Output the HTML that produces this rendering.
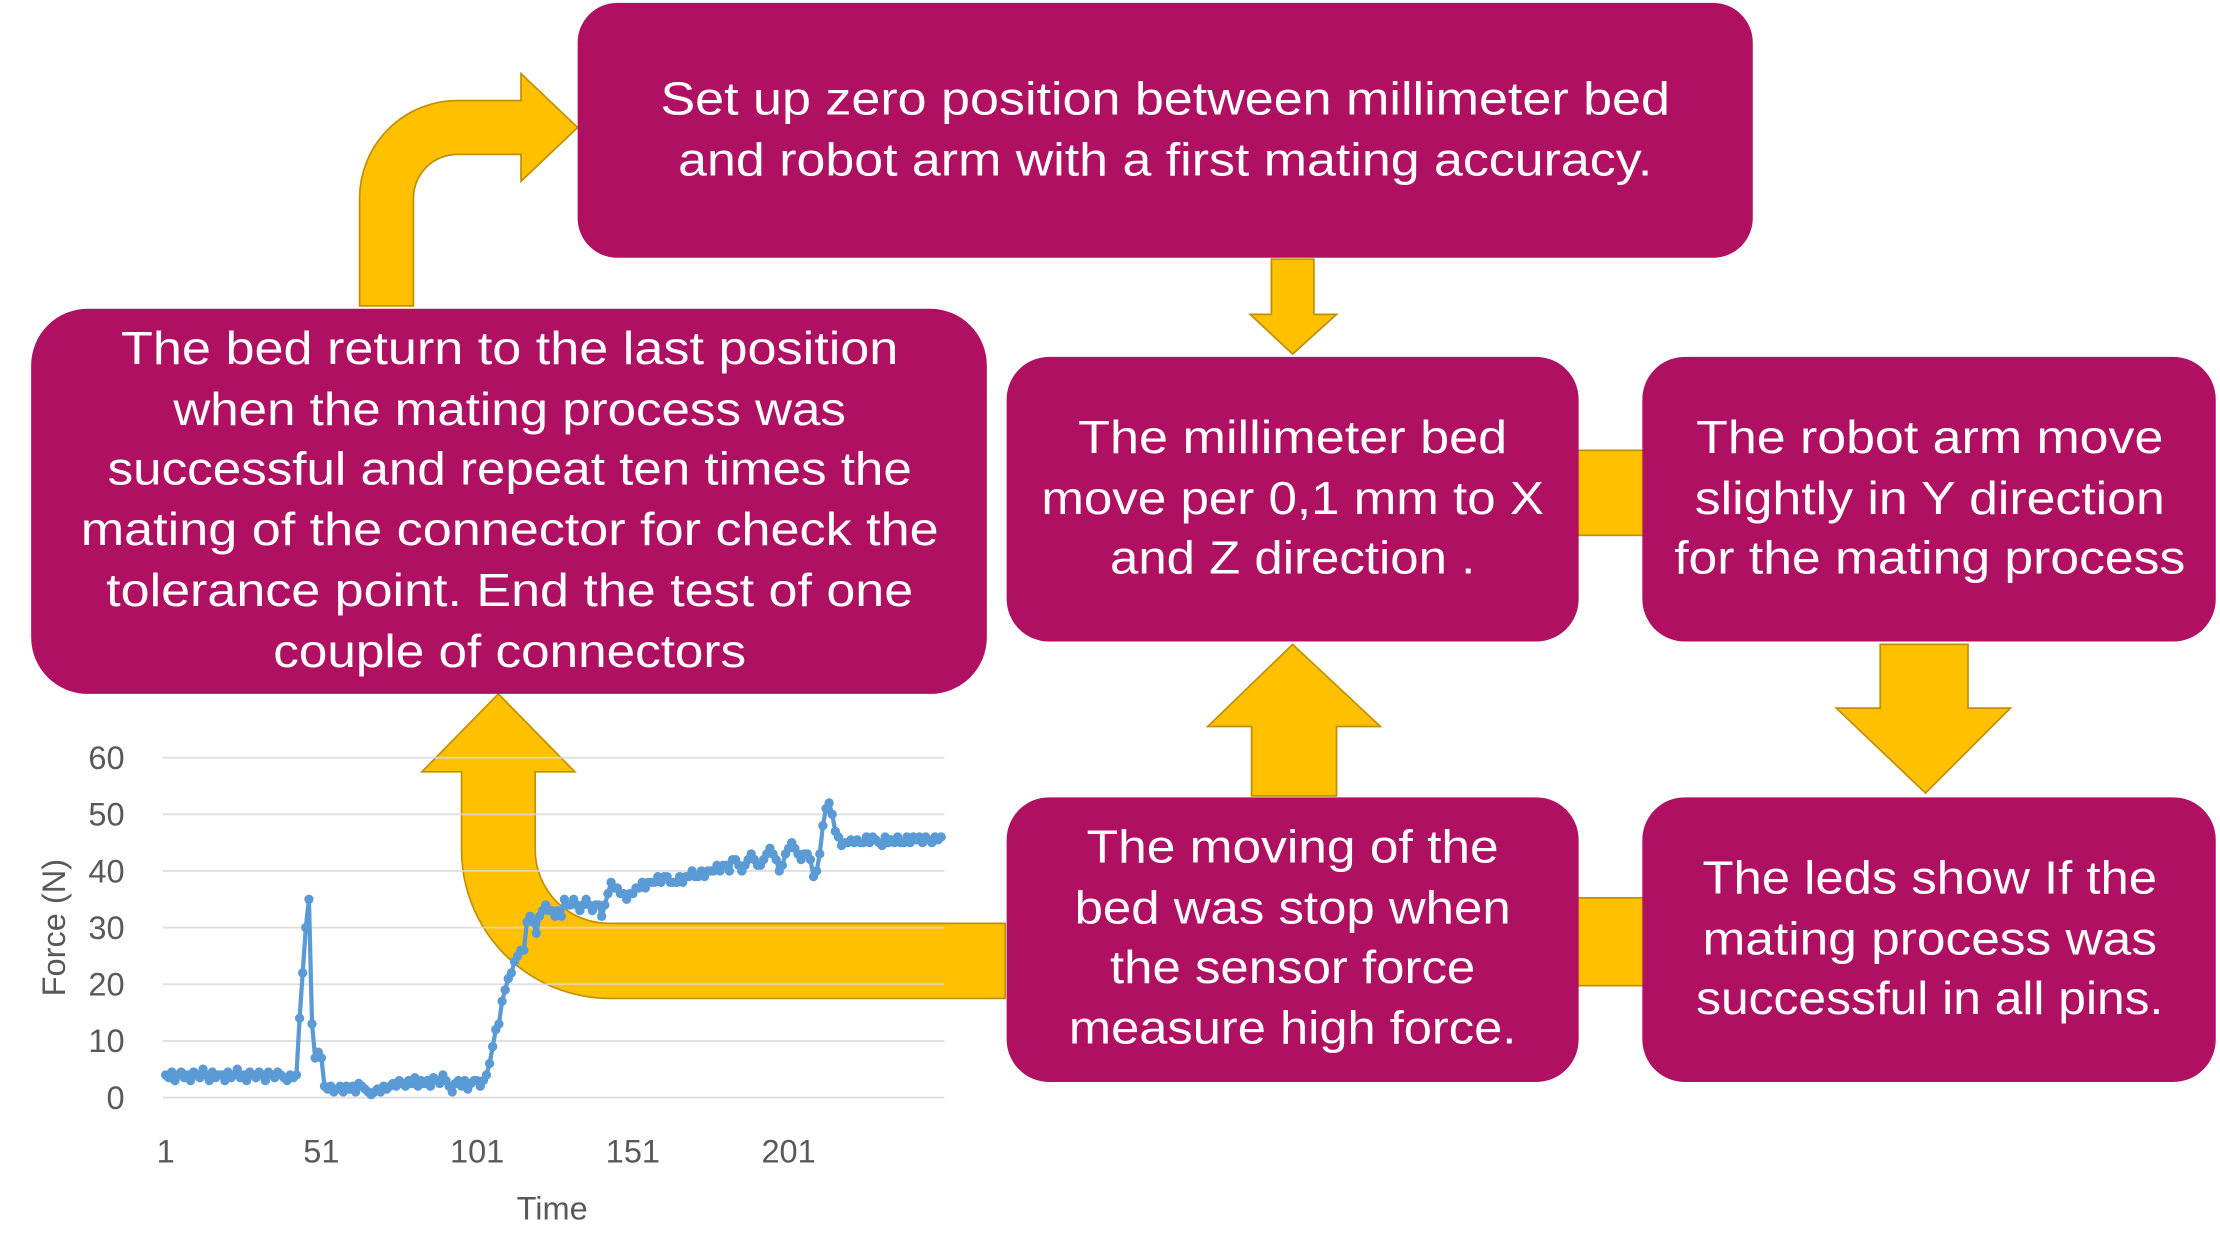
<!DOCTYPE html>
<html><head><meta charset="utf-8">
<style>
html,body{margin:0;padding:0;background:#fff;}
svg{display:block;}
.bt{font-family:"Liberation Sans",sans-serif;font-size:33px;fill:#fff;}
.ax{font-family:"Liberation Sans",sans-serif;font-size:23px;fill:#595959;}
</style></head>
<body>
<svg id="root" width="2220" height="1259" viewBox="0 0 1568 889" preserveAspectRatio="none" xmlns="http://www.w3.org/2000/svg">
<g fill="#FFC000" stroke="#BF9000" stroke-width="1.2">
 <path d="M710,652 L430,652 A52,52 0 0 1 378,600 L378,545 L406,545 L352,490 L298,545 L326,545 L326,600 A105,105 0 0 0 431,705 L710,705 Z"/>
 <path d="M254,216 L254,140 A69,69 0 0 1 323,71 L368,71 L368,52 L408,90 L368,128 L368,109 L323,109 A31,31 0 0 0 292,140 L292,216 Z"/>
 <path d="M898,183 L928,183 L928,222 L944,222 L913,250 L883,222 L898,222 Z"/>
 <path d="M884,562 L944,562 L944,513 L975,513 L913,455 L853,513 L884,513 Z"/>
 <path d="M1328,455 L1390,455 L1390,500 L1420,500 L1360,560 L1297,500 L1328,500 Z"/>
 <rect x="1114" y="318" width="47" height="60"/>
 <rect x="1114" y="634" width="47" height="62"/>
</g>
<g id="chart"></g>
<g fill="#B01062">
 <g><rect x="408" y="2" width="830" height="180" rx="28"/>
  <text class="bt" x="823" y="81" text-anchor="middle" textLength="713" lengthAdjust="spacingAndGlyphs">Set up zero position between millimeter bed</text>
  <text class="bt" x="823" y="124" text-anchor="middle" textLength="688" lengthAdjust="spacingAndGlyphs">and robot arm with a first mating accuracy.</text></g>
 <g><rect x="22" y="218" width="675" height="272" rx="40"/>
  <text class="bt" x="360" y="257" text-anchor="middle" textLength="549" lengthAdjust="spacingAndGlyphs">The bed return to the last position</text>
  <text class="bt" x="360" y="300" text-anchor="middle" textLength="475" lengthAdjust="spacingAndGlyphs">when the mating process was</text>
  <text class="bt" x="360" y="342" text-anchor="middle" textLength="568" lengthAdjust="spacingAndGlyphs">successful and repeat ten times the</text>
  <text class="bt" x="360" y="385" text-anchor="middle" textLength="606" lengthAdjust="spacingAndGlyphs">mating of the connector for check the</text>
  <text class="bt" x="360" y="428" text-anchor="middle" textLength="570" lengthAdjust="spacingAndGlyphs">tolerance point. End the test of one</text>
  <text class="bt" x="360" y="471" text-anchor="middle" textLength="334" lengthAdjust="spacingAndGlyphs">couple of connectors</text></g>
 <g><rect x="711" y="252" width="404" height="201" rx="30"/>
  <text class="bt" x="913" y="320" text-anchor="middle" textLength="303" lengthAdjust="spacingAndGlyphs">The millimeter bed</text>
  <text class="bt" x="913" y="363" text-anchor="middle" textLength="355" lengthAdjust="spacingAndGlyphs">move per 0,1 mm to X</text>
  <text class="bt" x="913" y="405" text-anchor="middle" textLength="258" lengthAdjust="spacingAndGlyphs">and Z direction .</text></g>
 <g><rect x="1160" y="252" width="405" height="201" rx="30"/>
  <text class="bt" x="1363" y="320" text-anchor="middle" textLength="330" lengthAdjust="spacingAndGlyphs">The robot arm move</text>
  <text class="bt" x="1363" y="363" text-anchor="middle" textLength="332" lengthAdjust="spacingAndGlyphs">slightly in Y direction</text>
  <text class="bt" x="1363" y="405" text-anchor="middle" textLength="361" lengthAdjust="spacingAndGlyphs">for the mating process</text></g>
 <g><rect x="711" y="563" width="404" height="201" rx="30"/>
  <text class="bt" x="913" y="609" text-anchor="middle" textLength="291" lengthAdjust="spacingAndGlyphs">The moving of the</text>
  <text class="bt" x="913" y="652" text-anchor="middle" textLength="308" lengthAdjust="spacingAndGlyphs">bed was stop when</text>
  <text class="bt" x="913" y="694" text-anchor="middle" textLength="258" lengthAdjust="spacingAndGlyphs">the sensor force</text>
  <text class="bt" x="913" y="737" text-anchor="middle" textLength="316" lengthAdjust="spacingAndGlyphs">measure high force.</text></g>
 <g><rect x="1160" y="563" width="405" height="201" rx="30"/>
  <text class="bt" x="1363" y="631" text-anchor="middle" textLength="321" lengthAdjust="spacingAndGlyphs">The leds show If the</text>
  <text class="bt" x="1363" y="674" text-anchor="middle" textLength="321" lengthAdjust="spacingAndGlyphs">mating process  was</text>
  <text class="bt" x="1363" y="716" text-anchor="middle" textLength="330" lengthAdjust="spacingAndGlyphs">successful in all pins.</text></g>
</g>
</svg>
<script>
const yTicks=[0,10,20,30,40,50,60];
const xTickLabels=[1,51,101,151,201];
const forceValues=[
4,3.5,4.5,3,4,4.5,3.5,4,3,4.5,4,3.5,5,4,3,4.5,3.5,4,4,3,4.5,3.5,4,5,3.5,4,3,4.5,4,3.5,4.5,4,3,4.5,4,3.5,4.5,4,3.5,3,4,3.5,4,
14,22,30,35,13,7,8,7,2,1.5,2,1,1.5,2,1,2,1.5,2,1,2.5,2,1.5,1,0.5,1,1.5,1,2,1.5,
2,2.5,2,3,2.5,2,3,2.5,3.5,2,3,2.5,3,2,3.5,3,2.5,4,3,2,1,2.5,3,2,3,1.5,2.5,3,3,2,
3,4,6,9,12,13,17,19,21,22,24,25,26,26,31,32,31,29,32,33,34,33,33,32,33,32,35,34,34,35,34,33,34,35,34,33,34,34,32,34,36,38,37,
37,36,36,35,36,36,37,37,38,37,38,38,38,39,38,39,39,38,38,38,39,38,39,39,40,39,39,40,39,40,40,40,41,40,41,41,40,42,42,41,40,41,42,43,42,41,41,42,43,44,43,42,
40,41,43,44,45,44,43,42,43,43,42,39,40,43,48,51,52,50,47,46,44.5,45,45,45.5,45,45.5,45,45,46,45,46,45.5,45,44.5,46,45,45.5,45,46,45,45,46,45,46,45.5,46,45,46,45.5,45,46,45.5,46
];
(function(){
const NS='http://www.w3.org/2000/svg';
const g=document.getElementById('chart');
const X0=117,DX=2.2,Y0=775,YS=4,XL=115,XR=667;
const xs=i=>X0+i*DX;
const ys=v=>Y0-v*YS;
function mk(t,a){const e=document.createElementNS(NS,t);for(const k in a)e.setAttribute(k,a[k]);g.appendChild(e);return e;}
yTicks.forEach(t=>{
 const l=mk('line',{x1:XL,x2:XR,y1:ys(t),y2:ys(t),stroke:'#d9d9d9','stroke-width':1.3,'stroke-opacity':0.85});
 
 
 const tx=mk('text',{x:88,y:ys(t)+8,'text-anchor':'end',class:'ax'});tx.textContent=t;
 
 
});
xTickLabels.forEach(t=>{
 const tx=mk('text',{x:xs(t-1),y:821,'text-anchor':'middle',class:'ax'});tx.textContent=t;
 
 
});
const xt=mk('text',{x:390,y:861,'text-anchor':'middle',class:'ax'});xt.textContent='Time';


const yt=mk('text',{x:0,y:0,'text-anchor':'middle',class:'ax',transform:'translate(46,655) rotate(-90)'});yt.textContent='Force (N)';


const pts=forceValues.map((v,i)=>xs(i).toFixed(1)+','+ys(v).toFixed(1)).join(' ');
const pl=mk('polyline',{points:pts,fill:'none',stroke:'#5B9BD5','stroke-width':3,'stroke-linejoin':'round'});


forceValues.forEach((v,i)=>{
 const c=mk('circle',{cx:xs(i),cy:ys(v),r:3.3,fill:'#5B9BD5'});
 
 
});
})();
</script>
</body></html>
